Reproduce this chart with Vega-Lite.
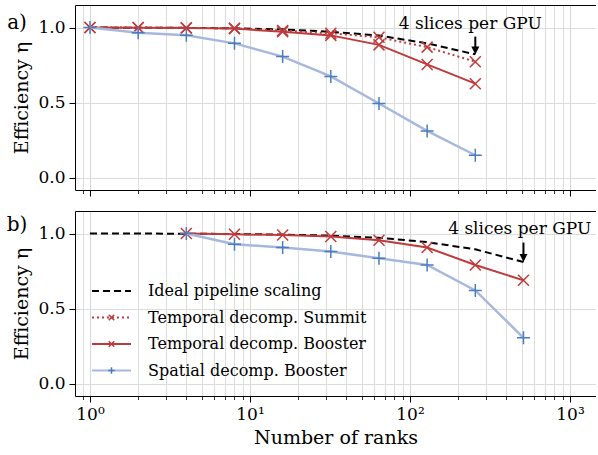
{
"$schema": "https://vega.github.io/schema/vega-lite/v6.json",
"padding": {"left": 6, "top": 5, "right": 0, "bottom": 5},
"spacing": 14,
"data": {"values": [
{"panel":"a","series":"Ideal pipeline scaling","ranks":1,"eff":1.0},
{"panel":"a","series":"Ideal pipeline scaling","ranks":2,"eff":0.999},
{"panel":"a","series":"Ideal pipeline scaling","ranks":4,"eff":0.998},
{"panel":"a","series":"Ideal pipeline scaling","ranks":8,"eff":0.995},
{"panel":"a","series":"Ideal pipeline scaling","ranks":16,"eff":0.988},
{"panel":"a","series":"Ideal pipeline scaling","ranks":32,"eff":0.972},
{"panel":"a","series":"Ideal pipeline scaling","ranks":64,"eff":0.947},
{"panel":"a","series":"Ideal pipeline scaling","ranks":128,"eff":0.895},
{"panel":"a","series":"Ideal pipeline scaling","ranks":256,"eff":0.822},
{"panel":"a","series":"Temporal decomp. Summit","ranks":1,"eff":1.0},
{"panel":"a","series":"Temporal decomp. Summit","ranks":2,"eff":1.0},
{"panel":"a","series":"Temporal decomp. Summit","ranks":4,"eff":0.998},
{"panel":"a","series":"Temporal decomp. Summit","ranks":8,"eff":0.995},
{"panel":"a","series":"Temporal decomp. Summit","ranks":16,"eff":0.98},
{"panel":"a","series":"Temporal decomp. Summit","ranks":32,"eff":0.962},
{"panel":"a","series":"Temporal decomp. Summit","ranks":64,"eff":0.935},
{"panel":"a","series":"Temporal decomp. Summit","ranks":128,"eff":0.87},
{"panel":"a","series":"Temporal decomp. Summit","ranks":256,"eff":0.773},
{"panel":"a","series":"Temporal decomp. Booster","ranks":1,"eff":1.0},
{"panel":"a","series":"Temporal decomp. Booster","ranks":2,"eff":0.999},
{"panel":"a","series":"Temporal decomp. Booster","ranks":4,"eff":0.997},
{"panel":"a","series":"Temporal decomp. Booster","ranks":8,"eff":0.993},
{"panel":"a","series":"Temporal decomp. Booster","ranks":16,"eff":0.972},
{"panel":"a","series":"Temporal decomp. Booster","ranks":32,"eff":0.948},
{"panel":"a","series":"Temporal decomp. Booster","ranks":64,"eff":0.885},
{"panel":"a","series":"Temporal decomp. Booster","ranks":128,"eff":0.755},
{"panel":"a","series":"Temporal decomp. Booster","ranks":256,"eff":0.627},
{"panel":"a","series":"Spatial decomp. Booster","ranks":1,"eff":1.0},
{"panel":"a","series":"Spatial decomp. Booster","ranks":2,"eff":0.965},
{"panel":"a","series":"Spatial decomp. Booster","ranks":4,"eff":0.949},
{"panel":"a","series":"Spatial decomp. Booster","ranks":8,"eff":0.895},
{"panel":"a","series":"Spatial decomp. Booster","ranks":16,"eff":0.807},
{"panel":"a","series":"Spatial decomp. Booster","ranks":32,"eff":0.675},
{"panel":"a","series":"Spatial decomp. Booster","ranks":64,"eff":0.495},
{"panel":"a","series":"Spatial decomp. Booster","ranks":128,"eff":0.313},
{"panel":"a","series":"Spatial decomp. Booster","ranks":256,"eff":0.151},
{"panel":"b","series":"Ideal pipeline scaling","ranks":1,"eff":1.0},
{"panel":"b","series":"Ideal pipeline scaling","ranks":2,"eff":1.0},
{"panel":"b","series":"Ideal pipeline scaling","ranks":4,"eff":0.999},
{"panel":"b","series":"Ideal pipeline scaling","ranks":8,"eff":0.997},
{"panel":"b","series":"Ideal pipeline scaling","ranks":16,"eff":0.993},
{"panel":"b","series":"Ideal pipeline scaling","ranks":32,"eff":0.986},
{"panel":"b","series":"Ideal pipeline scaling","ranks":64,"eff":0.972},
{"panel":"b","series":"Ideal pipeline scaling","ranks":128,"eff":0.943},
{"panel":"b","series":"Ideal pipeline scaling","ranks":256,"eff":0.895},
{"panel":"b","series":"Ideal pipeline scaling","ranks":512,"eff":0.811},
{"panel":"b","series":"Temporal decomp. Booster","ranks":4,"eff":1.0},
{"panel":"b","series":"Temporal decomp. Booster","ranks":8,"eff":0.995},
{"panel":"b","series":"Temporal decomp. Booster","ranks":16,"eff":0.99},
{"panel":"b","series":"Temporal decomp. Booster","ranks":32,"eff":0.98},
{"panel":"b","series":"Temporal decomp. Booster","ranks":64,"eff":0.956},
{"panel":"b","series":"Temporal decomp. Booster","ranks":128,"eff":0.907},
{"panel":"b","series":"Temporal decomp. Booster","ranks":256,"eff":0.791},
{"panel":"b","series":"Temporal decomp. Booster","ranks":512,"eff":0.689},
{"panel":"b","series":"Spatial decomp. Booster","ranks":4,"eff":1.0},
{"panel":"b","series":"Spatial decomp. Booster","ranks":8,"eff":0.929},
{"panel":"b","series":"Spatial decomp. Booster","ranks":16,"eff":0.907},
{"panel":"b","series":"Spatial decomp. Booster","ranks":32,"eff":0.88},
{"panel":"b","series":"Spatial decomp. Booster","ranks":64,"eff":0.836},
{"panel":"b","series":"Spatial decomp. Booster","ranks":128,"eff":0.791},
{"panel":"b","series":"Spatial decomp. Booster","ranks":256,"eff":0.622},
{"panel":"b","series":"Spatial decomp. Booster","ranks":512,"eff":0.307}
]},
"vconcat": [
{
"width": 521, "height": 185,
"resolve": {"axis": {"x": "independent", "y": "shared"}},
"layer": [
{"transform": [{"filter": {"field": "panel", "equal": "a"}}, {"filter": {"field": "series", "equal": "Ideal pipeline scaling"}}],
 "mark": {"type": "line", "color": "#000", "strokeWidth": 2, "strokeDash": [7, 4]},
 "encoding": {
  "x": {"field": "ranks", "type": "quantitative", "scale": {"type": "log", "domain": [0.806, 1454], "nice": false},
        "axis": {"orient": "bottom", "values": [0.9,2,3,4,5,6,7,8,9,20,30,40,50,60,70,80,90,200,300,400,500,600,700,800,900], "labels": false, "tickSize": 3.5, "tickColor": "#000", "tickWidth": 0.8, "domain": false, "grid": true, "gridColor": "#dddddd", "gridWidth": 1, "title": null}},
  "y": {"field": "eff", "type": "quantitative", "scale": {"domain": [-0.08, 1.15], "nice": false, "zero": false},
        "axis": {"orient": "left", "values": [0, 0.5, 1], "format": ".1f", "title": "Efficiency η", "titleFontSize": 19, "titlePadding": 6, "labelFontSize": 17, "labelPadding": 4, "tickSize": 6, "tickColor": "#000", "domain": true, "domainColor": "#000", "grid": true, "gridColor": "#dddddd"}}
 }},
{"transform": [{"filter": {"field": "panel", "equal": "a"}}, {"filter": {"field": "series", "equal": "Temporal decomp. Summit"}}],
 "mark": {"type": "line", "color": "#bf3b3b", "strokeWidth": 2, "strokeDash": [2, 3]},
 "encoding": {
  "x": {"field": "ranks", "type": "quantitative", "scale": {"type": "log", "domain": [0.806, 1454], "nice": false},
        "axis": {"orient": "bottom", "values": [1, 10, 100, 1000], "labels": false, "tickSize": 6, "tickColor": "#000", "tickWidth": 1, "domain": true, "domainColor": "#000", "grid": true, "gridColor": "#d6d6d6", "title": null}},
  "y": {"field": "eff", "type": "quantitative", "scale": {"domain": [-0.08, 1.15], "nice": false, "zero": false},
        "axis": {"orient": "left", "values": [0, 0.5, 1], "format": ".1f", "title": "Efficiency η", "titleFontSize": 19, "titlePadding": 6, "labelFontSize": 17, "labelPadding": 4, "tickSize": 6, "tickColor": "#000", "domain": true, "domainColor": "#000", "grid": true, "gridColor": "#dddddd"}}
 }},
{"transform": [{"filter": {"field": "panel", "equal": "a"}}, {"filter": {"field": "series", "equal": "Temporal decomp. Summit"}}],
 "mark": {"type": "point", "shape": "M-1,-1L1,1M-1,1L1,-1", "filled": false, "color": "#bf3b3b", "strokeWidth": 1.5, "size": 121, "opacity": 1},
 "encoding": {
  "x": {"field": "ranks", "type": "quantitative", "scale": {"type": "log", "domain": [0.806, 1454], "nice": false}, "axis": null},
  "y": {"field": "eff", "type": "quantitative", "scale": {"domain": [-0.08, 1.15], "nice": false, "zero": false},
        "axis": {"orient": "left", "values": [0, 0.5, 1], "format": ".1f", "title": "Efficiency η", "titleFontSize": 19, "titlePadding": 6, "labelFontSize": 17, "labelPadding": 4, "tickSize": 6, "tickColor": "#000", "domain": true, "domainColor": "#000", "grid": true, "gridColor": "#dddddd"}}
 }},
{"transform": [{"filter": {"field": "panel", "equal": "a"}}, {"filter": {"field": "series", "equal": "Temporal decomp. Booster"}}],
 "mark": {"type": "line", "color": "#bf3b3b", "strokeWidth": 2},
 "encoding": {
  "x": {"field": "ranks", "type": "quantitative", "scale": {"type": "log", "domain": [0.806, 1454], "nice": false},
        "axis": {"orient": "top", "ticks": false, "labels": false, "grid": false, "domain": true, "domainColor": "#000", "title": null}},
  "y": {"field": "eff", "type": "quantitative", "scale": {"domain": [-0.08, 1.15], "nice": false, "zero": false},
        "axis": {"orient": "left", "values": [0, 0.5, 1], "format": ".1f", "title": "Efficiency η", "titleFontSize": 19, "titlePadding": 6, "labelFontSize": 17, "labelPadding": 4, "tickSize": 6, "tickColor": "#000", "domain": true, "domainColor": "#000", "grid": true, "gridColor": "#dddddd"}}
 }},
{"transform": [{"filter": {"field": "panel", "equal": "a"}}, {"filter": {"field": "series", "equal": "Temporal decomp. Booster"}}],
 "mark": {"type": "point", "shape": "M-1,-1L1,1M-1,1L1,-1", "filled": false, "color": "#bf3b3b", "strokeWidth": 1.5, "size": 121, "opacity": 1},
 "encoding": {
  "x": {"field": "ranks", "type": "quantitative", "scale": {"type": "log", "domain": [0.806, 1454], "nice": false}, "axis": null},
  "y": {"field": "eff", "type": "quantitative", "scale": {"domain": [-0.08, 1.15], "nice": false, "zero": false},
        "axis": {"orient": "left", "values": [0, 0.5, 1], "format": ".1f", "title": "Efficiency η", "titleFontSize": 19, "titlePadding": 6, "labelFontSize": 17, "labelPadding": 4, "tickSize": 6, "tickColor": "#000", "domain": true, "domainColor": "#000", "grid": true, "gridColor": "#dddddd"}}
 }},
{"transform": [{"filter": {"field": "panel", "equal": "a"}}, {"filter": {"field": "series", "equal": "Spatial decomp. Booster"}}],
 "mark": {"type": "line", "color": "#a7b8de", "strokeWidth": 2.5},
 "encoding": {
  "x": {"field": "ranks", "type": "quantitative", "scale": {"type": "log", "domain": [0.806, 1454], "nice": false}, "axis": null},
  "y": {"field": "eff", "type": "quantitative", "scale": {"domain": [-0.08, 1.15], "nice": false, "zero": false},
        "axis": {"orient": "left", "values": [0, 0.5, 1], "format": ".1f", "title": "Efficiency η", "titleFontSize": 19, "titlePadding": 6, "labelFontSize": 17, "labelPadding": 4, "tickSize": 6, "tickColor": "#000", "domain": true, "domainColor": "#000", "grid": true, "gridColor": "#dddddd"}}
 }},
{"transform": [{"filter": {"field": "panel", "equal": "a"}}, {"filter": {"field": "series", "equal": "Spatial decomp. Booster"}}],
 "mark": {"type": "point", "shape": "M-1,0L1,0M0,-1L0,1", "filled": false, "color": "#4a7dc0", "strokeWidth": 1.5, "size": 169, "opacity": 1},
 "encoding": {
  "x": {"field": "ranks", "type": "quantitative", "scale": {"type": "log", "domain": [0.806, 1454], "nice": false}, "axis": null},
  "y": {"field": "eff", "type": "quantitative", "scale": {"domain": [-0.08, 1.15], "nice": false, "zero": false},
        "axis": {"orient": "left", "values": [0, 0.5, 1], "format": ".1f", "title": "Efficiency η", "titleFontSize": 19, "titlePadding": 6, "labelFontSize": 17, "labelPadding": 4, "tickSize": 6, "tickColor": "#000", "domain": true, "domainColor": "#000", "grid": true, "gridColor": "#dddddd"}}
 }},
{"data": {"values": [{}]},
 "mark": {"type": "text", "text": "4 slices per GPU", "fontSize": 17, "align": "center", "baseline": "alphabetic", "color": "#000"},
 "encoding": {
  "x": {"datum": 238, "type": "quantitative", "scale": {"type": "log", "domain": [0.806, 1454], "nice": false}, "axis": null},
  "y": {"datum": 0.99, "type": "quantitative", "scale": {"domain": [-0.08, 1.15], "nice": false, "zero": false},
        "axis": {"orient": "left", "values": [0, 0.5, 1], "format": ".1f", "title": "Efficiency η", "titleFontSize": 19, "titlePadding": 6, "labelFontSize": 17, "labelPadding": 4, "tickSize": 6, "tickColor": "#000", "domain": true, "domainColor": "#000", "grid": true, "gridColor": "#dddddd"}}
 }},
{"data": {"values": [{}]},
 "mark": {"type": "text", "text": "a)", "fontSize": 20, "align": "center", "baseline": "alphabetic", "color": "#000"},
 "encoding": {
  "x": {"datum": 0.35, "type": "quantitative", "scale": {"type": "log", "domain": [0.806, 1454], "nice": false}, "axis": null},
  "y": {"datum": 0.99, "type": "quantitative", "scale": {"domain": [-0.08, 1.15], "nice": false, "zero": false},
        "axis": {"orient": "left", "values": [0, 0.5, 1], "format": ".1f", "title": "Efficiency η", "titleFontSize": 19, "titlePadding": 6, "labelFontSize": 17, "labelPadding": 4, "tickSize": 6, "tickColor": "#000", "domain": true, "domainColor": "#000", "grid": true, "gridColor": "#dddddd"}}
 }},
{"data": {"values": [{}]},
 "mark": {"type": "rule", "color": "#000", "strokeWidth": 2},
 "encoding": {
  "x": {"datum": 256, "type": "quantitative", "scale": {"type": "log", "domain": [0.806, 1454], "nice": false}, "axis": null},
  "y": {"datum": 0.94, "type": "quantitative", "scale": {"domain": [-0.08, 1.15], "nice": false, "zero": false},
        "axis": {"orient": "left", "values": [0, 0.5, 1], "format": ".1f", "title": "Efficiency η", "titleFontSize": 19, "titlePadding": 6, "labelFontSize": 17, "labelPadding": 4, "tickSize": 6, "tickColor": "#000", "domain": true, "domainColor": "#000", "grid": true, "gridColor": "#dddddd"}},
  "y2": {"datum": 0.86}
 }},
{"data": {"values": [{}]},
 "mark": {"type": "point", "shape": "M-1,-1L1,-1L0,1Z", "filled": true, "color": "#000", "size": 64, "opacity": 1},
 "encoding": {
  "x": {"datum": 256, "type": "quantitative", "scale": {"type": "log", "domain": [0.806, 1454], "nice": false}, "axis": null},
  "y": {"datum": 0.847, "type": "quantitative", "scale": {"domain": [-0.08, 1.15], "nice": false, "zero": false},
        "axis": {"orient": "left", "values": [0, 0.5, 1], "format": ".1f", "title": "Efficiency η", "titleFontSize": 19, "titlePadding": 6, "labelFontSize": 17, "labelPadding": 4, "tickSize": 6, "tickColor": "#000", "domain": true, "domainColor": "#000", "grid": true, "gridColor": "#dddddd"}}
 }}
]
},
{
"width": 521, "height": 185,
"resolve": {"axis": {"x": "independent", "y": "shared"}, "scale": {"shape": "independent", "stroke": "independent", "strokeDash": "independent"}, "legend": {"shape": "independent", "stroke": "independent", "strokeDash": "independent"}},
"layer": [
{"transform": [{"filter": {"field": "panel", "equal": "b"}}, {"filter": {"field": "series", "equal": "Ideal pipeline scaling"}}],
 "mark": {"type": "line", "color": "#000", "strokeWidth": 2, "strokeDash": [7, 4]},
 "encoding": {
  "x": {"field": "ranks", "type": "quantitative", "scale": {"type": "log", "domain": [0.806, 1454], "nice": false},
        "axis": {"orient": "bottom", "values": [0.9,2,3,4,5,6,7,8,9,20,30,40,50,60,70,80,90,200,300,400,500,600,700,800,900], "labels": false, "tickSize": 3.5, "tickColor": "#000", "tickWidth": 0.8, "domain": false, "grid": true, "gridColor": "#dddddd", "gridWidth": 1, "title": null}},
  "y": {"field": "eff", "type": "quantitative", "scale": {"domain": [-0.08, 1.15], "nice": false, "zero": false},
        "axis": {"orient": "left", "values": [0, 0.5, 1], "format": ".1f", "title": "Efficiency η", "titleFontSize": 19, "titlePadding": 6, "labelFontSize": 17, "labelPadding": 4, "tickSize": 6, "tickColor": "#000", "domain": true, "domainColor": "#000", "grid": true, "gridColor": "#dddddd"}}
 }},
{"transform": [{"filter": {"field": "panel", "equal": "b"}}, {"filter": {"field": "series", "equal": "Temporal decomp. Booster"}}],
 "mark": {"type": "line", "color": "#bf3b3b", "strokeWidth": 2},
 "encoding": {
  "x": {"field": "ranks", "type": "quantitative", "scale": {"type": "log", "domain": [0.806, 1454], "nice": false},
        "axis": {"orient": "bottom", "values": [1, 10, 100, 1000], "labelExpr": "datum.value == 1 ? '10⁰' : datum.value == 10 ? '10¹' : datum.value == 100 ? '10²' : '10³'", "labelFontSize": 17, "labelPadding": 4, "tickSize": 6, "tickColor": "#000", "tickWidth": 1, "domain": true, "domainColor": "#000", "grid": true, "gridColor": "#d6d6d6", "title": "Number of ranks", "titleFontSize": 19, "titlePadding": 6}},
  "y": {"field": "eff", "type": "quantitative", "scale": {"domain": [-0.08, 1.15], "nice": false, "zero": false},
        "axis": {"orient": "left", "values": [0, 0.5, 1], "format": ".1f", "title": "Efficiency η", "titleFontSize": 19, "titlePadding": 6, "labelFontSize": 17, "labelPadding": 4, "tickSize": 6, "tickColor": "#000", "domain": true, "domainColor": "#000", "grid": true, "gridColor": "#dddddd"}}
 }},
{"transform": [{"filter": {"field": "panel", "equal": "b"}}, {"filter": {"field": "series", "equal": "Temporal decomp. Booster"}}],
 "mark": {"type": "point", "shape": "M-1,-1L1,1M-1,1L1,-1", "filled": false, "color": "#bf3b3b", "strokeWidth": 1.5, "size": 121, "opacity": 1},
 "encoding": {
  "x": {"field": "ranks", "type": "quantitative", "scale": {"type": "log", "domain": [0.806, 1454], "nice": false},
        "axis": {"orient": "top", "ticks": false, "labels": false, "grid": false, "domain": true, "domainColor": "#000", "title": null}},
  "y": {"field": "eff", "type": "quantitative", "scale": {"domain": [-0.08, 1.15], "nice": false, "zero": false},
        "axis": {"orient": "left", "values": [0, 0.5, 1], "format": ".1f", "title": "Efficiency η", "titleFontSize": 19, "titlePadding": 6, "labelFontSize": 17, "labelPadding": 4, "tickSize": 6, "tickColor": "#000", "domain": true, "domainColor": "#000", "grid": true, "gridColor": "#dddddd"}}
 }},
{"transform": [{"filter": {"field": "panel", "equal": "b"}}, {"filter": {"field": "series", "equal": "Spatial decomp. Booster"}}],
 "mark": {"type": "line", "color": "#a7b8de", "strokeWidth": 2.5},
 "encoding": {
  "x": {"field": "ranks", "type": "quantitative", "scale": {"type": "log", "domain": [0.806, 1454], "nice": false}, "axis": null},
  "y": {"field": "eff", "type": "quantitative", "scale": {"domain": [-0.08, 1.15], "nice": false, "zero": false},
        "axis": {"orient": "left", "values": [0, 0.5, 1], "format": ".1f", "title": "Efficiency η", "titleFontSize": 19, "titlePadding": 6, "labelFontSize": 17, "labelPadding": 4, "tickSize": 6, "tickColor": "#000", "domain": true, "domainColor": "#000", "grid": true, "gridColor": "#dddddd"}}
 }},
{"transform": [{"filter": {"field": "panel", "equal": "b"}}, {"filter": {"field": "series", "equal": "Spatial decomp. Booster"}}],
 "mark": {"type": "point", "shape": "M-1,0L1,0M0,-1L0,1", "filled": false, "color": "#4a7dc0", "strokeWidth": 1.5, "size": 169, "opacity": 1},
 "encoding": {
  "x": {"field": "ranks", "type": "quantitative", "scale": {"type": "log", "domain": [0.806, 1454], "nice": false}, "axis": null},
  "y": {"field": "eff", "type": "quantitative", "scale": {"domain": [-0.08, 1.15], "nice": false, "zero": false},
        "axis": {"orient": "left", "values": [0, 0.5, 1], "format": ".1f", "title": "Efficiency η", "titleFontSize": 19, "titlePadding": 6, "labelFontSize": 17, "labelPadding": 4, "tickSize": 6, "tickColor": "#000", "domain": true, "domainColor": "#000", "grid": true, "gridColor": "#dddddd"}}
 }},
{"data": {"values": [{}]},
 "mark": {"type": "text", "text": "4 slices per GPU", "fontSize": 17, "align": "center", "baseline": "alphabetic", "color": "#000"},
 "encoding": {
  "x": {"datum": 485, "type": "quantitative", "scale": {"type": "log", "domain": [0.806, 1454], "nice": false}, "axis": null},
  "y": {"datum": 0.995, "type": "quantitative", "scale": {"domain": [-0.08, 1.15], "nice": false, "zero": false},
        "axis": {"orient": "left", "values": [0, 0.5, 1], "format": ".1f", "title": "Efficiency η", "titleFontSize": 19, "titlePadding": 6, "labelFontSize": 17, "labelPadding": 4, "tickSize": 6, "tickColor": "#000", "domain": true, "domainColor": "#000", "grid": true, "gridColor": "#dddddd"}}
 }},
{"data": {"values": [{}]},
 "mark": {"type": "text", "text": "b)", "fontSize": 20, "align": "center", "baseline": "alphabetic", "color": "#000"},
 "encoding": {
  "x": {"datum": 0.35, "type": "quantitative", "scale": {"type": "log", "domain": [0.806, 1454], "nice": false}, "axis": null},
  "y": {"datum": 1.02, "type": "quantitative", "scale": {"domain": [-0.08, 1.15], "nice": false, "zero": false},
        "axis": {"orient": "left", "values": [0, 0.5, 1], "format": ".1f", "title": "Efficiency η", "titleFontSize": 19, "titlePadding": 6, "labelFontSize": 17, "labelPadding": 4, "tickSize": 6, "tickColor": "#000", "domain": true, "domainColor": "#000", "grid": true, "gridColor": "#dddddd"}}
 }},
{"data": {"values": [{}]},
 "mark": {"type": "rule", "color": "#000", "strokeWidth": 2},
 "encoding": {
  "x": {"datum": 512, "type": "quantitative", "scale": {"type": "log", "domain": [0.806, 1454], "nice": false}, "axis": null},
  "y": {"datum": 0.94, "type": "quantitative", "scale": {"domain": [-0.08, 1.15], "nice": false, "zero": false},
        "axis": {"orient": "left", "values": [0, 0.5, 1], "format": ".1f", "title": "Efficiency η", "titleFontSize": 19, "titlePadding": 6, "labelFontSize": 17, "labelPadding": 4, "tickSize": 6, "tickColor": "#000", "domain": true, "domainColor": "#000", "grid": true, "gridColor": "#dddddd"}},
  "y2": {"datum": 0.85}
 }},
{"data": {"values": [{}]},
 "mark": {"type": "point", "shape": "M-1,-1L1,-1L0,1Z", "filled": true, "color": "#000", "size": 64, "opacity": 1},
 "encoding": {
  "x": {"datum": 512, "type": "quantitative", "scale": {"type": "log", "domain": [0.806, 1454], "nice": false}, "axis": null},
  "y": {"datum": 0.838, "type": "quantitative", "scale": {"domain": [-0.08, 1.15], "nice": false, "zero": false},
        "axis": {"orient": "left", "values": [0, 0.5, 1], "format": ".1f", "title": "Efficiency η", "titleFontSize": 19, "titlePadding": 6, "labelFontSize": 17, "labelPadding": 4, "tickSize": 6, "tickColor": "#000", "domain": true, "domainColor": "#000", "grid": true, "gridColor": "#dddddd"}}
 }},
{"transform": [{"filter": "false"}],
 "mark": {"type": "point", "filled": false, "opacity": 1, "size": 169},
 "encoding": {
  "shape": {"field": "series", "type": "nominal",
    "scale": {"domain": ["Ideal pipeline scaling", "Temporal decomp. Summit", "Temporal decomp. Booster", "Spatial decomp. Booster"], "range": ["M-3,0L3,0", "M-3,0L3,0", "M-3,0L3,0", "M-3,0L3,0"]},
    "legend": {"orient": "none", "legendX": 28.5, "legendY": 72, "title": null, "padding": 0, "symbolSize": 169, "symbolStrokeWidth": 2, "symbolOpacity": 1, "labelFontSize": 16, "labelColor": "#000", "labelOffset": 28.5, "labelLimit": 0, "rowPadding": 10.5}},
  "stroke": {"field": "series", "type": "nominal",
    "scale": {"domain": ["Ideal pipeline scaling", "Temporal decomp. Summit", "Temporal decomp. Booster", "Spatial decomp. Booster"], "range": ["#000000", "#bf3b3b", "#bf3b3b", "#a7b8de"]},
    "legend": {"orient": "none", "legendX": 28.5, "legendY": 72, "title": null, "padding": 0, "symbolSize": 169, "symbolStrokeWidth": 2, "symbolOpacity": 1, "labelFontSize": 16, "labelColor": "#000", "labelOffset": 28.5, "labelLimit": 0, "rowPadding": 10.5}},
  "strokeDash": {"field": "series", "type": "nominal",
    "scale": {"domain": ["Ideal pipeline scaling", "Temporal decomp. Summit", "Temporal decomp. Booster", "Spatial decomp. Booster"], "range": [[7, 4], [2, 3], [1, 0], [1, 0]]},
    "legend": {"orient": "none", "legendX": 28.5, "legendY": 72, "title": null, "padding": 0, "symbolSize": 169, "symbolStrokeWidth": 2, "symbolOpacity": 1, "labelFontSize": 16, "labelColor": "#000", "labelOffset": 28.5, "labelLimit": 0, "rowPadding": 10.5}}
 }},
{"transform": [{"filter": "false"}],
 "mark": {"type": "point", "filled": false, "opacity": 1, "size": 169},
 "encoding": {
  "shape": {"field": "series", "type": "nominal",
    "scale": {"domain": ["Ideal pipeline scaling", "Temporal decomp. Summit", "Temporal decomp. Booster", "Spatial decomp. Booster"], "range": ["M-0.42,-0.42L0.42,0.42M-0.42,0.42L0.42,-0.42", "M-0.42,-0.42L0.42,0.42M-0.42,0.42L0.42,-0.42", "M-0.42,-0.42L0.42,0.42M-0.42,0.42L0.42,-0.42", "M-0.5,0L0.5,0M0,-0.5L0,0.5"]},
    "legend": {"orient": "none", "legendX": 28.5, "legendY": 72, "title": null, "padding": 0, "symbolSize": 169, "symbolStrokeWidth": 1.5, "symbolOpacity": 1, "labelFontSize": 16, "labelColor": "transparent", "labelOffset": 28.5, "labelLimit": 0, "rowPadding": 10.5}},
  "stroke": {"field": "series", "type": "nominal",
    "scale": {"domain": ["Ideal pipeline scaling", "Temporal decomp. Summit", "Temporal decomp. Booster", "Spatial decomp. Booster"], "range": ["transparent", "#bf3b3b", "#bf3b3b", "#4a7dc0"]},
    "legend": {"orient": "none", "legendX": 28.5, "legendY": 72, "title": null, "padding": 0, "symbolSize": 169, "symbolStrokeWidth": 1.5, "symbolOpacity": 1, "labelFontSize": 16, "labelColor": "transparent", "labelOffset": 28.5, "labelLimit": 0, "rowPadding": 10.5}}
 }}
]
}
],
"config": {
 "view": {"stroke": null},
 "font": "DejaVu Serif",
 "axis": {"labelFont": "DejaVu Serif", "titleFont": "DejaVu Serif", "labelColor": "#000", "titleColor": "#000", "titleFontWeight": "normal"},
 "legend": {"labelFont": "DejaVu Serif"}
}
}
